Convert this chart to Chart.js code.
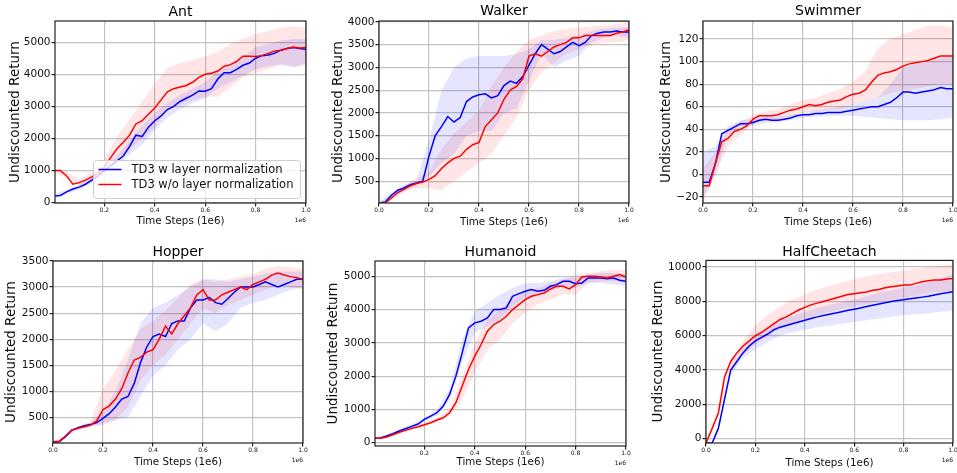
<!DOCTYPE html>
<html>
<head>
<meta charset="utf-8">
<script src="https://cdn.jsdelivr.net/npm/chart.js@4.4.0/dist/chart.umd.min.js"></script>
<style>
  html, body { margin: 0; padding: 0; background: #fff; }
  #fig { position: relative; width: 957px; height: 473px; overflow: hidden; }
  #fig canvas { position: absolute; }
</style>
</head>
<body>
<div id="fig"></div>
<script>
// series names + shared x grids (time steps in 1e6)
const seriesNames = ['TD3 w layer normalization', 'TD3 w/o layer normalization'];
const xLine = [0, 0.025, 0.05, 0.075, 0.1, 0.125, 0.15, 0.175, 0.2, 0.225, 0.25, 0.275, 0.3, 0.325, 0.35, 0.375, 0.4,
  0.425, 0.45, 0.475, 0.5, 0.525, 0.55, 0.575, 0.6, 0.625, 0.65, 0.675, 0.7, 0.725, 0.75, 0.775, 0.8, 0.825, 0.85,
  0.875, 0.9, 0.925, 0.95, 0.975, 1.0];
const xBand = [0, 0.05, 0.1, 0.15, 0.2, 0.25, 0.3, 0.35, 0.4, 0.45, 0.5, 0.55, 0.6, 0.65, 0.7, 0.75, 0.8, 0.85, 0.9, 0.95, 1.0];
const xTicksFull = [0, 0.2, 0.4, 0.6, 0.8, 1.0];
const xTicksNoZero = [0.2, 0.4, 0.6, 0.8, 1.0];

// Ant
const antYTicks = [0, 1000, 2000, 3000, 4000, 5000];
const antBlue = [200, 220, 330, 420, 480, 570, 700, 830, 1000, 1150, 1300, 1450, 1750, 2100, 2060, 2350, 2550, 2700, 2900, 3000, 3150, 3250, 3350, 3480, 3470, 3550, 3850, 4050, 4050, 4150, 4280, 4350, 4500, 4580, 4600, 4650, 4750, 4800, 4830, 4800, 4780];
const antRed = [1000, 1000, 830, 570, 620, 700, 800, 920, 1100, 1400, 1680, 1880, 2100, 2450, 2550, 2750, 2950, 3200, 3450, 3550, 3600, 3650, 3750, 3900, 4000, 4030, 4100, 4250, 4300, 4400, 4560, 4560, 4550, 4580, 4650, 4720, 4750, 4800, 4850, 4820, 4830];
const antBlueHi = [250, 400, 560, 780, 1100, 1450, 1950, 2400, 2800, 3100, 3350, 3550, 3750, 4100, 4300, 4550, 4850, 4950, 5050, 5100, 5100];
const antBlueLo = [150, 270, 400, 620, 900, 1150, 1500, 1800, 2250, 2650, 2900, 3100, 3250, 3550, 3750, 3950, 4150, 4250, 4300, 4200, 4350];
const antRedHi = [1050, 950, 720, 950, 1350, 2050, 2600, 3150, 3700, 4200, 4350, 4450, 4550, 4700, 4950, 5100, 5250, 5350, 5450, 5500, 5450];
const antRedLo = [950, 750, 520, 680, 900, 1350, 1650, 2000, 2350, 2900, 3050, 3200, 3300, 3300, 3600, 3900, 4050, 4150, 4300, 4250, 4250];

// Walker
const walkerYTicks = [500, 1000, 1500, 2000, 2500, 3000, 3500, 4000];
const walkerBlue = [20, 40, 190, 300, 350, 420, 460, 500, 1050, 1500, 1700, 1920, 1800, 1900, 2250, 2350, 2400, 2420, 2330, 2380, 2600, 2700, 2650, 2800, 3050, 3300, 3500, 3400, 3300, 3350, 3450, 3550, 3480, 3550, 3700, 3750, 3780, 3780, 3800, 3780, 3780];
const walkerRed = [20, 20, 130, 250, 320, 400, 450, 480, 540, 620, 780, 900, 1000, 1050, 1200, 1300, 1350, 1700, 1850, 2000, 2300, 2500, 2580, 2750, 3250, 3300, 3250, 3350, 3450, 3500, 3550, 3650, 3650, 3700, 3700, 3700, 3700, 3700, 3750, 3780, 3830];
const walkerBlueHi = [30, 250, 420, 520, 1400, 2500, 3000, 3200, 3250, 3250, 3250, 3300, 3400, 3600, 3600, 3650, 3700, 3800, 3850, 3870, 3880];
const walkerBlueLo = [10, 130, 280, 400, 600, 900, 1100, 1500, 1600, 1600, 2000, 2100, 2700, 3300, 3000, 3150, 3250, 3550, 3650, 3700, 3650];
const walkerRedHi = [30, 200, 400, 550, 700, 1200, 1550, 1800, 2050, 2600, 3000, 3350, 3600, 3700, 3800, 3850, 3880, 3900, 3920, 3950, 4000];
const walkerRedLo = [10, 80, 250, 350, 350, 300, 500, 700, 900, 1100, 1500, 1900, 2500, 2900, 3100, 3300, 3400, 3500, 3550, 3550, 3600];

// Swimmer
const swimmerYTicks = [-20, 0, 20, 40, 60, 80, 100, 120];
const swimmerBlue = [-7, -7, 10, 36, 39, 42, 45, 45, 46, 48, 49, 48, 48, 49, 50, 52, 53, 53, 54, 54, 55, 55, 55, 56, 57, 58, 59, 60, 60, 62, 64, 68, 73, 73, 72, 73, 74, 75, 77, 76, 76];
const swimmerRed = [-10, -10, 10, 29, 32, 38, 40, 43, 49, 52, 52, 52, 53, 55, 57, 58, 60, 62, 61, 62, 64, 65, 66, 69, 71, 72, 75, 82, 88, 90, 91, 93, 96, 98, 99, 100, 101, 103, 105, 105, 105];
const swimmerBlueHi = [20, 25, 43, 48, 49, 51, 51, 53, 55, 57, 58, 60, 62, 65, 68, 80, 95, 98, 100, 103, 105];
const swimmerBlueLo = [-20, 0, 35, 42, 43, 46, 46, 48, 50, 51, 52, 52, 52, 51, 50, 49, 48, 48, 48, 49, 50];
const swimmerRedHi = [5, 20, 40, 47, 53, 56, 58, 62, 66, 68, 72, 76, 82, 92, 112, 120, 124, 128, 132, 132, 130];
const swimmerRedLo = [-25, 0, 25, 35, 45, 48, 49, 52, 55, 56, 57, 58, 62, 65, 68, 72, 74, 76, 78, 80, 80];

// Hopper
const hopperYTicks = [500, 1000, 1500, 2000, 2500, 3000, 3500];
const hopperBlue = [20, 30, 130, 250, 300, 340, 360, 400, 480, 570, 700, 850, 900, 1150, 1550, 1850, 2050, 2100, 2050, 2300, 2350, 2350, 2600, 2750, 2750, 2800, 2700, 2670, 2780, 2900, 3000, 3000, 3000, 3050, 3100, 3050, 3000, 3050, 3100, 3150, 3150];
const hopperRed = [30, 40, 140, 260, 290, 320, 350, 430, 650, 720, 850, 1050, 1350, 1600, 1650, 1750, 1800, 2000, 2250, 2100, 2300, 2450, 2600, 2850, 2950, 2750, 2750, 2850, 2900, 2950, 3000, 2950, 3050, 3100, 3150, 3230, 3270, 3230, 3200, 3180, 3150];
const hopperBlueHi = [30, 150, 330, 400, 600, 1000, 1600, 2300, 2600, 2700, 2850, 3000, 3150, 3150, 3100, 3150, 3200, 3250, 3300, 3300, 3300];
const hopperBlueLo = [10, 110, 270, 320, 380, 450, 500, 900, 1300, 1500, 1800, 2000, 2300, 2150, 2300, 2600, 2700, 2750, 2850, 2950, 3000];
const hopperRedHi = [40, 160, 320, 420, 1050, 1400, 1800, 2200, 2350, 2550, 2800, 3050, 3150, 3100, 3150, 3200, 3250, 3350, 3400, 3380, 3350];
const hopperRedLo = [20, 120, 260, 320, 350, 450, 700, 1200, 1500, 1700, 2000, 2300, 2600, 2500, 2650, 2750, 2850, 2950, 3050, 3000, 2950];

// Humanoid
const humanoidYTicks = [0, 1000, 2000, 3000, 4000, 5000];
const humanoidBlue = [130, 140, 200, 270, 350, 420, 490, 560, 700, 800, 900, 1100, 1450, 2000, 2700, 3450, 3600, 3650, 3750, 4000, 4000, 4050, 4400, 4480, 4550, 4600, 4550, 4580, 4700, 4750, 4850, 4850, 4780, 4800, 4950, 4950, 4950, 4930, 4950, 4880, 4850];
const humanoidRed = [130, 130, 170, 240, 310, 370, 430, 480, 540, 600, 680, 750, 900, 1200, 1700, 2200, 2600, 2950, 3350, 3550, 3650, 3800, 4000, 4150, 4300, 4400, 4450, 4500, 4620, 4700, 4700, 4620, 4750, 4980, 5000, 5000, 4980, 4950, 5000, 5050, 4980];
const humanoidBlueHi = [160, 240, 400, 550, 760, 980, 1600, 3100, 3950, 4200, 4450, 4650, 4800, 4800, 4850, 4950, 4950, 5050, 5100, 5100, 5050];
const humanoidBlueLo = [100, 160, 300, 430, 640, 820, 1300, 2400, 3300, 3500, 3700, 4100, 4350, 4400, 4550, 4700, 4650, 4800, 4800, 4750, 4700];
const humanoidRedHi = [150, 200, 350, 470, 590, 740, 1000, 2000, 3000, 3700, 4000, 4300, 4550, 4650, 4800, 4900, 5050, 5100, 5150, 5200, 5200];
const humanoidRedLo = [110, 140, 270, 390, 490, 620, 800, 1300, 2100, 2800, 3100, 3600, 3900, 4150, 4300, 4450, 4450, 4800, 4850, 4850, 4800];

// HalfCheetach
const cheetahYTicks = [0, 2000, 4000, 6000, 8000, 10000];
const cheetahBlue = [-250, -250, 600, 2300, 4000, 4500, 5000, 5400, 5700, 5900, 6100, 6350, 6500, 6600, 6700, 6800, 6900, 7000, 7100, 7180, 7250, 7320, 7400, 7480, 7550, 7620, 7700, 7780, 7850, 7920, 8000, 8050, 8100, 8150, 8200, 8250, 8300, 8380, 8450, 8500, 8560];
const cheetahRed = [-250, 600, 1500, 3600, 4500, 5000, 5400, 5700, 6000, 6200, 6450, 6700, 6950, 7100, 7300, 7500, 7650, 7800, 7900, 8000, 8100, 8200, 8300, 8400, 8450, 8500, 8550, 8650, 8700, 8800, 8850, 8900, 8950, 8950, 9050, 9150, 9200, 9250, 9250, 9300, 9330];
const cheetahBlueHi = [-250, 550, 4100, 5250, 6000, 6500, 6900, 7150, 7400, 7600, 7800, 7950, 8100, 8300, 8500, 8650, 8800, 8950, 9100, 9350, 9600];
const cheetahBlueLo = [-250, 450, 3700, 4750, 5200, 5650, 6000, 6200, 6350, 6500, 6600, 6700, 6800, 6900, 7000, 7100, 7200, 7250, 7300, 7400, 7450];
const cheetahRedHi = [-250, 1600, 4500, 5700, 6600, 7200, 7700, 8100, 8400, 8700, 8900, 9100, 9300, 9450, 9600, 9700, 9800, 9900, 10000, 10100, 10150];
const cheetahRedLo = [-250, 1400, 4100, 4950, 5500, 5950, 6400, 6700, 7000, 7200, 7400, 7550, 7700, 7850, 8000, 8100, 8200, 8350, 8500, 8550, 8600];

const FONT = "'DejaVu Sans', sans-serif";
const BLUE = '#0000ff', RED = '#ff0000';
const GRID = '#c2c2c2';
Chart.defaults.font.family = FONT;
Chart.defaults.color = '#111';

// box around the plot area + the "1e6" offset label
const framePlugin = {
    id: 'frame',
    afterDraw(chart) {
        const { ctx, chartArea: a } = chart;
        ctx.save();
        ctx.strokeStyle = '#222';
        ctx.lineWidth = 1.2;
        ctx.strokeRect(a.left, a.top, a.right - a.left, a.bottom - a.top);
        ctx.fillStyle = '#111';
        ctx.font = `6px ${FONT}`;
        ctx.textAlign = 'right';
        ctx.textBaseline = 'middle';
        ctx.fillText('1e6', a.right, a.bottom + 17);
        ctx.restore();
    }
};

// matplotlib-like legend drawn inside the Ant axes
const boxLegendPlugin = {
    id: 'boxLegend',
    afterDraw(chart, args, opts) {
        if (!opts.show) return;
        const { ctx } = chart;
        ctx.save();
        ctx.fillStyle = 'rgba(255,255,255,0.8)';
        ctx.strokeStyle = '#cccccc';
        ctx.lineWidth = 1;
        ctx.beginPath();
        ctx.roundRect(opts.x, opts.y, opts.w, opts.h, 3);
        ctx.fill();
        ctx.stroke();
        ctx.font = `11.5px ${FONT}`;
        ctx.textBaseline = 'middle';
        ctx.textAlign = 'left';
        [BLUE, RED].forEach((c, i) => {
            const ly = opts.y + 9 + i * 15;
            ctx.strokeStyle = c;
            ctx.lineWidth = 1.5;
            ctx.beginPath();
            ctx.moveTo(opts.x + 5, ly);
            ctx.lineTo(opts.x + 28, ly);
            ctx.stroke();
            ctx.fillStyle = '#111';
            ctx.fillText(seriesNames[i], opts.x + 38, ly + 0.5);
        });
        ctx.restore();
    }
};

const panels = [
    { title: 'Ant', cell: [0, 0, 319, 236], yW: 55, rPad: 13, xH: 33, tTop: 3.6, tBot: 0.6, ytPad: 6.9, xtPad: 8.3,
      xMin: 0.004, xTicks: xTicksNoZero, yMin: -15, yMax: 5660, yTicks: antYTicks,
      blue: antBlue, red: antRed, blueHi: antBlueHi, blueLo: antBlueLo, redHi: antRedHi, redLo: antRedLo,
      legend: { show: true, x: 93.5, y: 160.5, w: 207, h: 38 } },
    { title: 'Walker', cell: [319, 0, 319, 236], yW: 60, rPad: 9, xH: 33, tTop: 3.3, tBot: 0.9, ytPad: 11.6, xtPad: 7.3,
      xMin: 0, xTicks: xTicksFull, yMin: 20, yMax: 4020, yTicks: walkerYTicks,
      blue: walkerBlue, red: walkerRed, blueHi: walkerBlueHi, blueLo: walkerBlueLo, redHi: walkerRedHi, redLo: walkerRedLo },
    { title: 'Swimmer', cell: [638, 0, 319, 236], yW: 65, rPad: 4, xH: 33, tTop: 3.3, tBot: 0.9, ytPad: 19.9, xtPad: 7.1,
      xMin: 0, xTicks: xTicksFull, yMin: -25.3, yMax: 136, yTicks: swimmerYTicks,
      blue: swimmerBlue, red: swimmerRed, blueHi: swimmerBlueHi, blueLo: swimmerBlueLo, redHi: swimmerRedHi, redLo: swimmerRedLo },
    { title: 'Hopper', cell: [0, 236, 319, 237], yW: 53, rPad: 16, xH: 30, tTop: 7.6, tBot: 0.6, ytPad: 3.6, xtPad: 4.1,
      xMin: 0, xTicks: xTicksFull, yMin: 7, yMax: 3500, yTicks: hopperYTicks,
      blue: hopperBlue, red: hopperRed, blueHi: hopperBlueHi, blueLo: hopperBlueLo, redHi: hopperRedHi, redLo: hopperRedLo },
    { title: 'Humanoid', cell: [319, 236, 319, 237], yW: 56, rPad: 12, xH: 27, tTop: 7.6, tBot: 0.6, ytPad: 6.6, xtPad: 4.2,
      xMin: 0.004, xTicks: xTicksNoZero, yMin: -100, yMax: 5460, yTicks: humanoidYTicks,
      blue: humanoidBlue, red: humanoidRed, blueHi: humanoidBlueHi, blueLo: humanoidBlueLo, redHi: humanoidRedHi, redLo: humanoidRedLo },
    { title: 'HalfCheetach', cell: [638, 236, 319, 237], yW: 68, rPad: 4, xH: 30, tTop: 7.6, tBot: 0, ytPad: 11.9, xtPad: 3.1,
      xMin: 0, xTicks: xTicksFull, yMin: -250, yMax: 10390, yTicks: cheetahYTicks,
      blue: cheetahBlue, red: cheetahRed, blueHi: cheetahBlueHi, blueLo: cheetahBlueLo, redHi: cheetahRedHi, redLo: cheetahRedLo }
];

const pts = (xs, ys) => xs.map((x, i) => ({ x: x, y: ys[i] }));
const fmtY = v => (v < 0 ? '\u2212' + Math.abs(v) : String(v));

function drawPanel(p) {
    const canvas = document.createElement('canvas');
    canvas.width = p.cell[2];
    canvas.height = p.cell[3];
    canvas.style.left = p.cell[0] + 'px';
    canvas.style.top = p.cell[1] + 'px';
    document.getElementById('fig').appendChild(canvas);

    const band = (data, fill, color) => ({
        data: data, fill: fill, backgroundColor: color, borderColor: 'transparent',
        borderWidth: 0, pointRadius: 0, order: 3
    });

    new Chart(canvas, {
        type: 'line',
        data: {
            datasets: [
                band(pts(xBand, p.blueHi), false, 'rgba(0,0,255,0.1)'),
                band(pts(xBand, p.blueLo), '-1', 'rgba(0,0,255,0.1)'),
                band(pts(xBand, p.redHi), false, 'rgba(255,0,0,0.1)'),
                band(pts(xBand, p.redLo), '-1', 'rgba(255,0,0,0.1)'),
                { label: seriesNames[0], data: pts(xLine, p.blue), borderColor: BLUE, borderWidth: 1.5,
                  pointRadius: 0, fill: false, order: 2 },
                { label: seriesNames[1], data: pts(xLine, p.red), borderColor: RED, borderWidth: 1.5,
                  pointRadius: 0, fill: false, order: 1 }
            ]
        },
        options: {
            responsive: false,
            animation: false,
            events: [],
            layout: { padding: { left: 0, top: 0, right: p.rPad, bottom: 0 } },
            scales: {
                x: {
                    type: 'linear', min: p.xMin, max: 1,
                    afterBuildTicks: s => { s.ticks = p.xTicks.map(v => ({ value: v })); },
                    afterFit: s => { s.height = p.xH; s.paddingLeft = 0; s.paddingRight = 0; },
                    grid: { color: GRID, lineWidth: 1.2, tickColor: '#222', tickLength: 3.5 },
                    border: { display: false },
                    ticks: { font: { size: 6 }, padding: 0.5, maxRotation: 0, autoSkip: false,
                             callback: v => v.toFixed(1) },
                    title: { display: true, text: 'Time Steps (1e6)', font: { size: 10.3 },
                             padding: { top: 0, bottom: p.xtPad } }
                },
                y: {
                    min: p.yMin, max: p.yMax,
                    afterBuildTicks: s => { s.ticks = p.yTicks.map(v => ({ value: v })); },
                    afterFit: s => { s.width = p.yW; s.paddingTop = 0; s.paddingBottom = 0; },
                    grid: { color: GRID, lineWidth: 1.2, tickColor: '#222', tickLength: 3.5 },
                    border: { display: false },
                    ticks: { font: { size: 10.5 }, padding: 1, autoSkip: false, callback: v => fmtY(v) },
                    title: { display: true, text: 'Undiscounted Return', font: { size: 13.5 },
                             padding: { top: p.ytPad, bottom: 0 } }
                }
            },
            plugins: {
                legend: { display: false },
                tooltip: { enabled: false },
                title: { display: true, text: p.title, fullSize: false, color: '#000',
                         font: { size: 14, weight: 'normal' }, padding: { top: p.tTop, bottom: p.tBot } },
                boxLegend: p.legend || { show: false }
            }
        },
        plugins: [framePlugin, boxLegendPlugin]
    });
}

panels.forEach(drawPanel);
</script>
</body>
</html>
